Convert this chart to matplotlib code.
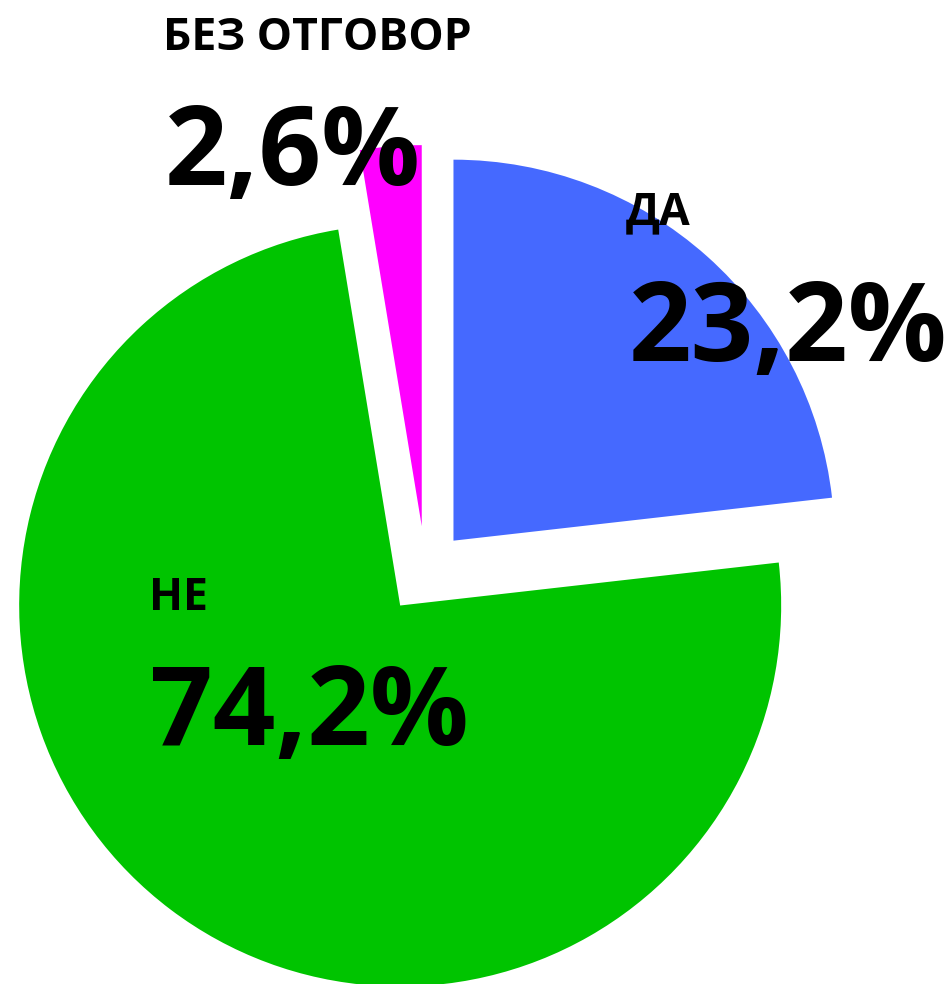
import matplotlib
matplotlib.use("Agg")
import matplotlib.pyplot as plt

categories = ["ДА", "НЕ", "БЕЗ ОТГОВОР"]
values = [23.2, 74.2, 2.6]
value_labels = ["23,2%", "74,2%", "2,6%"]
colors = ["#4569FF", "#00C400", "#FF00FF"]

W, H = 953, 984
plt.rcParams["font.family"] = ["Open Sans", "DejaVu Sans"]

fig = plt.figure(figsize=(W / 100, H / 100), dpi=100)
ax = fig.add_axes([0, 0, 1, 1])

ax.pie(values, colors=colors, startangle=90, counterclock=False,
       radius=381, center=(425.5, H - 572), explode=[42, 42, 46],
       wedgeprops=dict(linewidth=0))
ax.set_xlim(0, W)
ax.set_ylim(0, H)
ax.set_aspect("equal")
ax.axis("off")

# text anchors (left, baseline) in pixels from the top-left corner
name_pos = [(626, 224), (149, 610), (163, 50)]
value_pos = [(629, 361), (150, 745), (165, 185)]

for cat, lab, (nx, ny), (vx, vy) in zip(categories, value_labels, name_pos, value_pos):
    ax.text(nx, H - ny, cat, fontsize=32, fontweight="bold",
            ha="left", va="baseline")
    ax.text(vx, H - vy, lab, fontsize=79, fontweight="bold",
            ha="left", va="baseline")

fig.savefig("out.png", dpi=100)
